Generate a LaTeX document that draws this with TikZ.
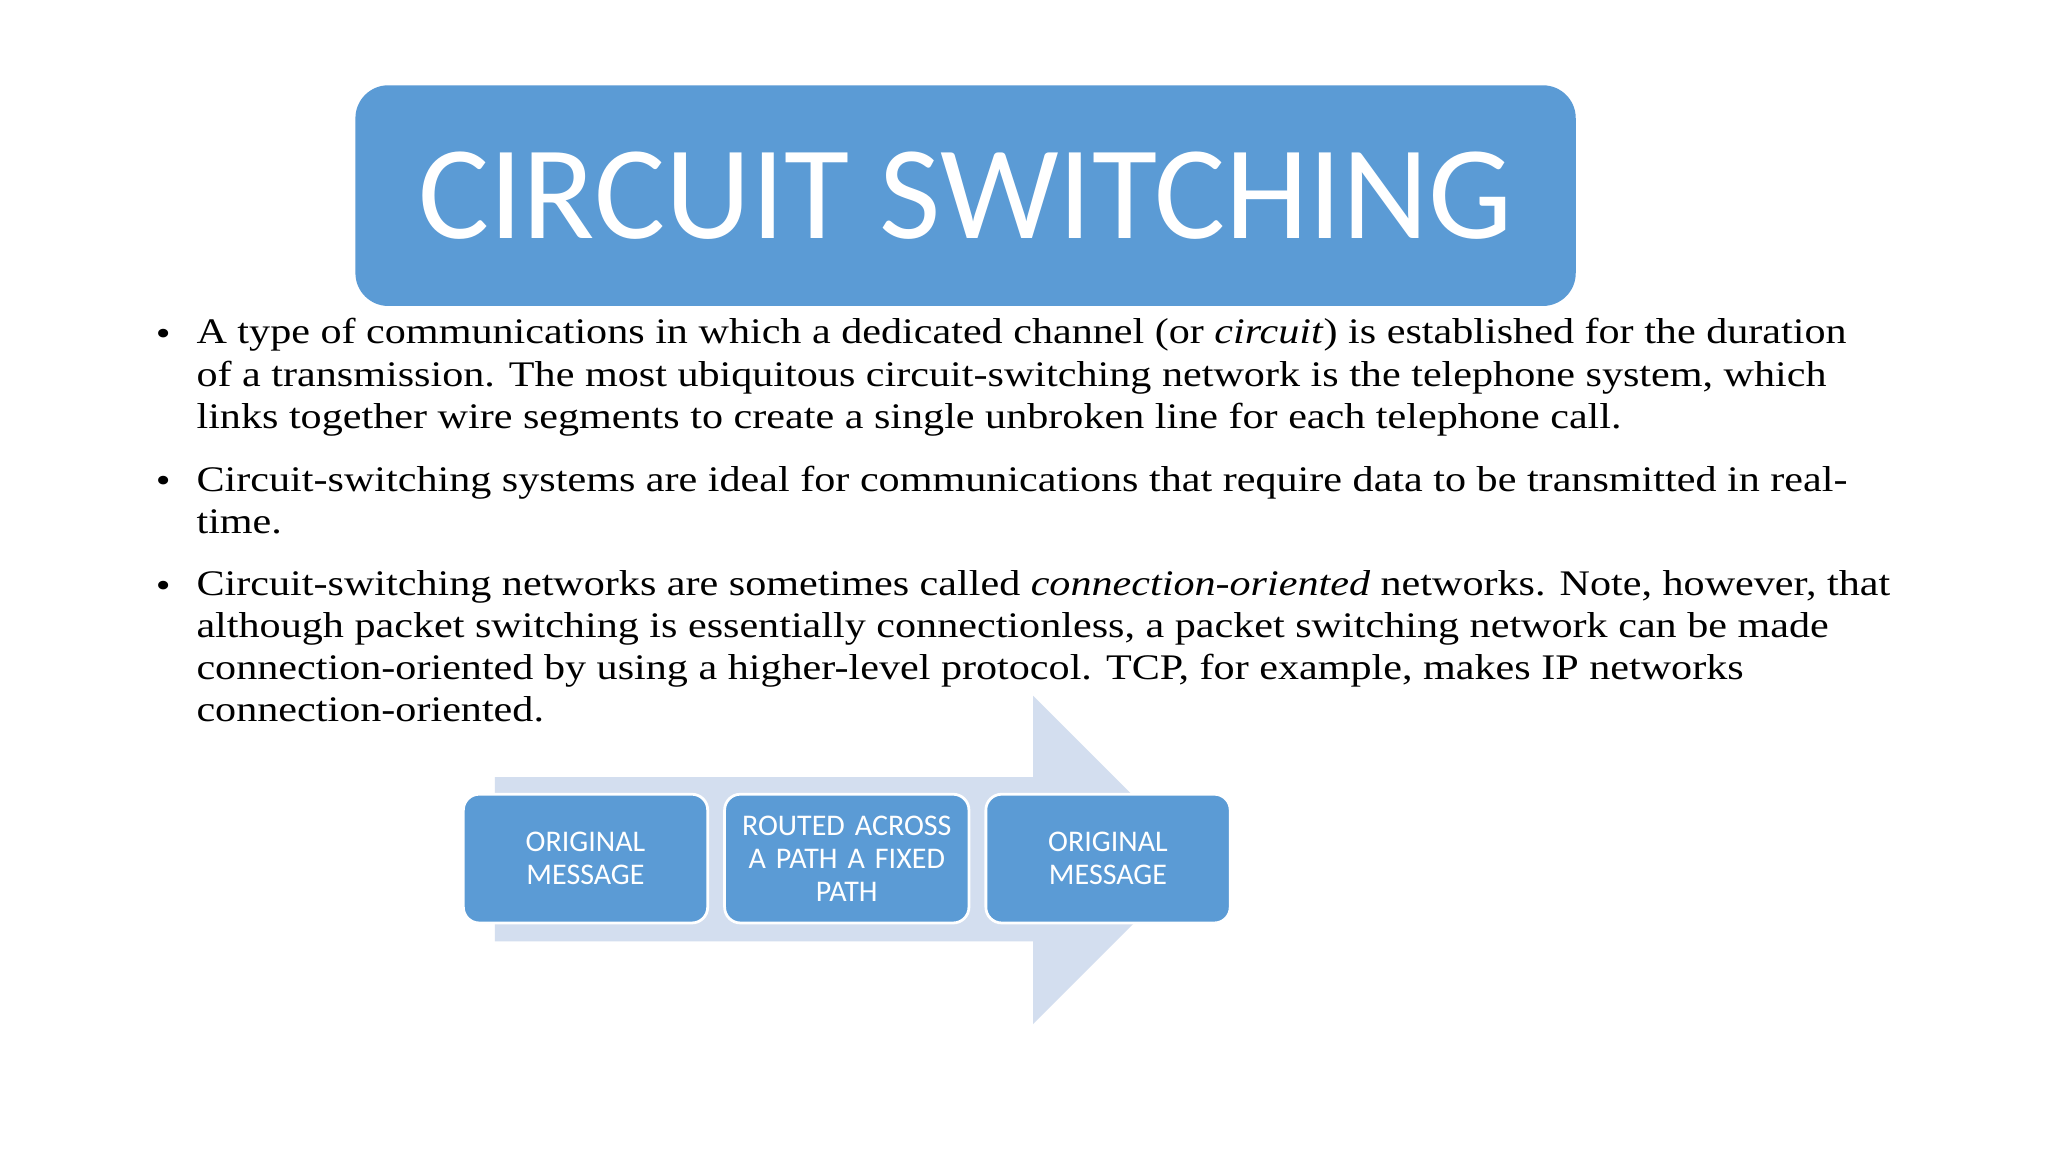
\documentclass[tikz,border=0pt]{standalone}
\usepackage{fontspec}
\setmainfont{Liberation Serif}[FakeStretch=1.17]
\newfontfamily\titlefont{Carlito}
\definecolor{boxblue}{HTML}{5B9BD5}
\definecolor{arrowblue}{HTML}{D3DEEF}
\begin{document}
\begin{tikzpicture}[x=0.01cm,y=-0.01cm,
  blue box/.style={draw=white,line width=0.6pt,fill=boxblue,rounded corners=0.12cm,minimum width=1.86cm,minimum height=0.98cm,text=white,font=\titlefont\fontsize{6.5pt}{7.1pt}\selectfont,align=center,text width=1.75cm,inner sep=0pt},
  bodytext/.style={anchor=north west,inner sep=0pt,align=left,font=\fontsize{7.8pt}{9.1pt}\selectfont},
  bullet/.style={anchor=north west,inner sep=0pt,font=\fontsize{7.8pt}{9.1pt}\selectfont}]
\useasboundingbox (0,0) rectangle (1560,878);
\fill[white] (0,0) rectangle (1560,878);
\node[fill=boxblue,rounded corners=0.25cm,minimum width=9.29cm,minimum height=1.68cm,text=white,font=\titlefont\fontsize{28.9pt}{29pt}\selectfont] (title) at (735.5,149) {CIRCUIT SWITCHING};
\node[bullet] (b1) at (118,250) {•};
\node[bodytext] (t1) at (149,242) {A type of communications in which a dedicated channel (or \textit{circuit}) is established for the duration\\of a transmission. The most ubiquitous circuit-switching network is the telephone system, which\\links together wire segments to create a single unbroken line for each telephone call.};
\node[bullet] (b2) at (118,362) {•};
\node[bodytext] (t2) at (149,354) {Circuit-switching systems are ideal for communications that require data to be transmitted in real-\\time.};
\node[bullet] (b3) at (118,442) {•};
\node[bodytext] (t3) at (149,434) {Circuit-switching networks are sometimes called \textit{connection-oriented} networks. Note, however, that\\although packet switching is essentially connectionless, a packet switching network can be made\\connection-oriented by using a higher-level protocol. TCP, for example, makes IP networks\\connection-oriented.};
\fill[arrowblue] (377,592) -- (787,592) -- (787,530) -- (912,655) -- (787,780) -- (787,717) -- (377,717) -- cycle;
\node[blue box] (m1) at (446,654) {ORIGINAL\\MESSAGE};
\node[blue box] (m2) at (645,654) {ROUTED ACROSS\\A PATH A FIXED\\PATH};
\node[blue box] (m3) at (844,654) {ORIGINAL\\MESSAGE};
\end{tikzpicture}
\end{document}
